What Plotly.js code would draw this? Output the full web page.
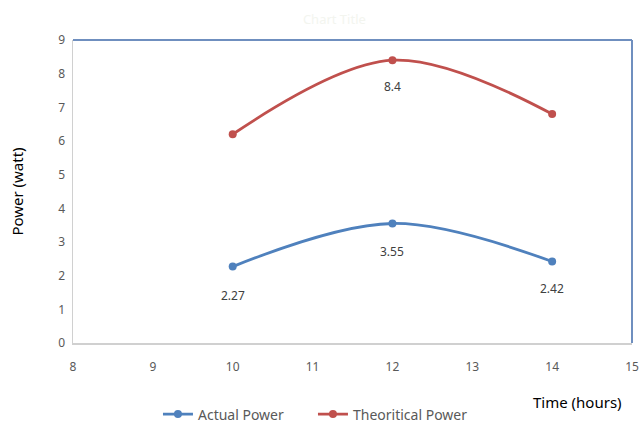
<!DOCTYPE html>
<html>
<head>
<meta charset="utf-8">
<script src="https://cdn.plot.ly/plotly-3.0.1.min.js"></script>
<style>html,body{margin:0;padding:0;background:#fff;}#chart{width:643px;height:425px;}</style>
</head>
<body>
<div id="chart"></div>
<script>
const hours = [10, 12, 14];
const actualPower = [2.27, 3.55, 2.42];
const theoreticalPower = [6.2, 8.4, 6.8];
const actualLabels = ['2.27', '3.55', '2.42'];
const theoreticalLabels = ['', '8.4', ''];
const xTicks = [8, 9, 10, 11, 12, 13, 14, 15];
const yTicks = [0, 1, 2, 3, 4, 5, 6, 7, 8, 9];

const blue = '#4F81BD';
const red = '#C0504D';
const fontFam = 'Noto Sans, Open Sans, sans-serif';

const traces = [
  {x: hours, y: actualPower, name: 'Actual Power', type: 'scatter', mode: 'lines+markers',
   line: {color: blue, width: 2.8, shape: 'spline'}, marker: {color: blue, size: 8}},
  {x: hours, y: theoreticalPower, name: 'Theoritical Power', type: 'scatter', mode: 'lines+markers',
   line: {color: red, width: 2.8, shape: 'spline'}, marker: {color: red, size: 8}}
];

const actualShift = [-29, -28, -27];
const annotations = [];
hours.forEach((h, i) => {
  if (actualLabels[i]) annotations.push({x: h, y: actualPower[i], text: actualLabels[i], showarrow: false,
    yshift: actualShift[i], font: {size: 12, color: '#404040', family: fontFam}});
  if (theoreticalLabels[i]) annotations.push({x: h, y: theoreticalPower[i], text: theoreticalLabels[i], showarrow: false,
    yshift: -26, font: {size: 12, color: '#404040', family: fontFam}});
});
annotations.push({xref: 'paper', yref: 'paper', x: 0.985, y: -0.195, xanchor: 'right', yanchor: 'middle',
  text: 'Time (hours)', showarrow: false, font: {size: 15, color: '#000', family: fontFam}});

const layout = {
  width: 643, height: 425,
  margin: {l: 73, r: 11, t: 40, b: 82, autoexpand: false},
  paper_bgcolor: '#fff', plot_bgcolor: '#fff',
  font: {family: fontFam},
  title: {text: 'Chart Title', x: 0.52, y: 0.965, font: {size: 13, color: '#f3f5ef', family: fontFam}},
  xaxis: {range: [8, 15], tickvals: xTicks, ticktext: xTicks.map(String), showgrid: false, zeroline: false,
    showline: true, linecolor: '#d0d0d0', linewidth: 1.5, ticks: '', ticklen: 0, ticklabelstandoff: 12,
    tickfont: {size: 12, color: '#595959', family: fontFam}},
  yaxis: {range: [0, 9], tickvals: yTicks, ticktext: yTicks.map(String), showgrid: false, zeroline: false,
    showline: true, linecolor: '#d0d0d0', linewidth: 1.5, ticks: '', ticklen: 0, ticklabelstandoff: 4,
    tickfont: {size: 12, color: '#595959', family: fontFam},
    title: {text: 'Power (watt)', standoff: 31, font: {size: 15, color: '#000', family: fontFam}}},
  shapes: [
    {type: 'line', xref: 'paper', yref: 'paper', x0: 0, x1: 1, y0: 1, y1: 1, line: {color: '#6f8fbf', width: 2}},
    {type: 'line', xref: 'paper', yref: 'paper', x0: 1, x1: 1, y0: 0, y1: 1, line: {color: '#6f8fbf', width: 2}}
  ],
  annotations: annotations,
  showlegend: true,
  legend: {orientation: 'h', x: 0.152, xanchor: 'left', y: -0.236, yanchor: 'middle',
    entrywidth: 110, entrywidthmode: 'pixels',
    font: {size: 14, color: '#595959', family: fontFam}, bgcolor: 'rgba(0,0,0,0)', borderwidth: 0}
};

Plotly.newPlot('chart', traces, layout, {displayModeBar: false, staticPlot: true});
</script>
</body>
</html>
